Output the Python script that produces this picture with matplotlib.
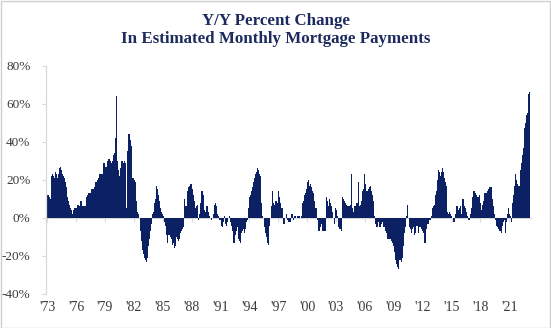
import matplotlib
matplotlib.use("Agg")
import matplotlib.pyplot as plt
import numpy as np
from matplotlib.ticker import PercentFormatter
from matplotlib.patches import Rectangle

plt.rcParams['axes.unicode_minus'] = False

# Monthly Y/Y % change, Jan 1973 onward
y1973 = [12, 12, 11, 10, 11, 22, 23, 22, 21, 22, 24, 23]
y1974 = [21, 23, 22, 26, 27, 25, 23, 23, 22, 21, 19, 16]
y1975 = [14, 11, 9, 7, 5, 4, 4, 2, 4, 5, 5, 5]
y1976 = [5, 7, 7, 6, 6, 9, 9, 6, 6, 6, 6, 6]
y1977 = [11, 11, 12, 13, 13, 13, 13, 15, 15, 15, 16, 18]
y1978 = [19, 19, 20, 21, 22, 23, 23, 23, 23, 23, 29, 29]
y1979 = [27, 27, 28, 30, 31, 31, 30, 29, 29, 30, 33, 34]
y1980 = [36, 42, 64, 30, 25, 23, 22, 26, 30, 30, 28, 29]
y1981 = [30, 29, 5, 35, 38, 44, 44, 41, 38, 30, 21, 21]
y1982 = [20, 19, 12, 9, 3, 2, 0, -4, -7, -12, -17, -19]
y1983 = [-19, -21, -22, -23, -21, -19, -15, -11, -7, -3, 0, 2]
y1984 = [3, 8, 10, 14, 17, 15, 12, 9, 7, 5, 3, 2]
y1985 = [1, -1, -2, -4, -9, -13, -11, -9, -9, -10, -11, -12]
y1986 = [-14, -13, -16, -15, -10, -10, -11, -12, -11, -10, -8, -7]
y1987 = [-6, -5, 13, 10, 6, 6, 14, 15, 16, 17, 18, 18]
y1988 = [16, 15, 12, 9, 5, 4, 6, 7, -1, 2, 3, 8]
y1989 = [14, 14, 12, 10, 4, 3, 6, 6, 3, 2, 1, 0]
y1990 = [-1, 0, -1, 2, 7, 8, 6, 5, 2, 1, -1, -1]
y1991 = [-1, -4, -5, -2, 1, 2, -3, -4, -2, 0, 1, 1]
y1992 = [-2, -4, -7, -8, -13, -13, -9, -7, -4, -5, -11, -12]
y1993 = [-13, -12, -8, -7, -6, -8, -8, -6, -2, -1, 5, 9]
y1994 = [11, 12, 14, 16, 17, 19, 21, 23, 24, 26, 26, 25]
y1995 = [23, 22, 15, 8, 1, 0, -5, -6, -8, -10, -13, -14]
y1996 = [-12, -4, 0, 6, 14, 12, 8, 7, 9, 9, 8, 8]
y1997 = [14, 11, 8, 6, 5, 5, -3, -3, -1, 0, 2, -1]
y1998 = [-2, -2, 0, -2, 2, 2, -1, -1, 1, 1, 0, 1]
y1999 = [1, 1, 1, 0, 1, 1, 8, 9, 12, 13, 15, 15]
y2000 = [19, 20, 17, 18, 18, 16, 14, 13, 9, 9, 5, 5]
y2001 = [-1, -3, -7, -7, -5, -3, -4, -7, -7, -7, -7, -3]
y2002 = [11, 9, 6, 10, 11, 8, 6, 3, 0, -3, -3, 5]
y2003 = [4, 1, -4, -5, -6, -6, -7, -7, 11, 10, 9, 8]
y2004 = [7, 7, 6, 6, 6, 7, 7, 23, 5, 3, 2, 6]
y2005 = [6, 8, 8, 11, 19, 6, 7, 9, 9, 14, 15, 23]
y2006 = [18, 16, 14, 14, 15, 16, 17, 16, 14, 12, 9, 1]
y2007 = [-3, -3, -5, -5, -2, -3, -5, -5, -3, -2, -1, -5]
y2008 = [-5, -7, -8, -10, -11, -11, -11, -11, -12, -12, -13, -15]
y2009 = [-18, -20, -22, -24, -26, -27, -24, -22, -22, -23, -21, -19]
y2010 = [-15, -8, -5, 1, 7, 7, 0, -5, -6, -8, -8, -6]
y2011 = [-5, -9, -9, -8, -4, -4, -8, -8, -5, -5, -6, -7]
y2012 = [-7, -8, -13, -13, -6, -6, -3, -3, -1, -1, 1, 1]
y2013 = [5, 6, 7, 8, 12, 14, 20, 25, 25, 24, 22, 24]
y2014 = [26, 25, 24, 21, 19, 17, 15, 3, 2, 3, 2, 1]
y2015 = [2, 0, -2, -2, 2, 3, 6, 6, 4, 5, 6, 6]
y2016 = [2, 10, 10, 6, 6, 5, 3, 1, -1, -1, -1, 2]
y2017 = [5, 8, 11, 14, 14, 13, 12, 12, 11, 11, 12, 11]
y2018 = [8, 4, 7, 9, 11, 13, 13, 13, 14, 14, 15, 16]
y2019 = [16, 16, 13, 10, 6, 2, -1, -3, -4, -5, -6, -7]
y2020 = [-6, -7, -8, -4, -2, 0, -1, -8, -2, 2, 4, 5]
y2021 = [2, 1, -2, 2, 8, 12, 17, 23, 22, 20, 18, 17]
y2022 = [17, 22, 25, 29, 33, 37, 41, 47, 50, 54, 55, 49]
y2023 = [65, 66]

values = (y1973 + y1974 + y1975 + y1976 + y1977 + y1978 + y1979 + y1980 + y1981
          + y1982 + y1983 + y1984 + y1985 + y1986 + y1987 + y1988 + y1989 + y1990
          + y1991 + y1992 + y1993 + y1994 + y1995 + y1996 + y1997 + y1998 + y1999
          + y2000 + y2001 + y2002 + y2003 + y2004 + y2005 + y2006 + y2007 + y2008
          + y2009 + y2010 + y2011 + y2012 + y2013 + y2014 + y2015 + y2016 + y2017
          + y2018 + y2019 + y2020 + y2021 + y2022 + y2023)

tick_years = list(range(1973, 2022, 3))
tick_labels = ["'73", "'76", "'79", "'82", "'85", "'88", "'91", "'94", "'97",
               "'00", "'03", "'06", "'09", "'12", "'15", "'18", "'21"]

BAR = '#0b2163'
TITLE = '#1c2a5e'
GRID = '#d9d9d9'
TXT = '#3a3a3a'
SERIF = ['Liberation Serif', 'DejaVu Serif']

W, H = 551, 328
fig = plt.figure(figsize=(W / 100, H / 100), dpi=100)
fig.patches.append(Rectangle((0.5 / W, 0.5 / H), 1 - 1.5 / W, 1 - 1.5 / H,
                             transform=fig.transFigure, fill=False,
                             edgecolor='#cfcfcf', lw=1.0))

left, right, top, bottom = 45.7, 530.5, 65.7, 294.0
ax = fig.add_axes([left / W, (H - bottom) / H, (right - left) / W, (bottom - top) / H])

x = np.arange(len(values))
ax.bar(x, values, width=1.0, color=BAR, linewidth=0, zorder=2)

ax.set_xlim(-2.5, len(values))
ax.set_ylim(-40, 80)
ax.set_yticks(np.arange(-40, 81, 20))
ax.yaxis.set_major_formatter(PercentFormatter(decimals=0))

tick_pos = [(yr - 1973) * 12 - 0.5 for yr in tick_years]
ax.set_xticks(tick_pos)
ax.set_xticklabels(tick_labels)
ax.tick_params(axis='x', length=0, pad=5, labelsize=10, labelcolor=TXT)
ax.tick_params(axis='y', length=3, width=0.8, color=GRID, pad=8, labelsize=9.5, labelcolor=TXT)
for lab in ax.get_xticklabels() + ax.get_yticklabels():
    lab.set_family(SERIF)

for s in ['top', 'right', 'bottom']:
    ax.spines[s].set_visible(False)
ax.spines['left'].set_color(GRID)
ax.spines['left'].set_linewidth(0.9)

# category axis crossing at 0%
sec = ax.secondary_xaxis(1 / 3)
sec.set_xticks(tick_pos)
sec.set_xticklabels([''] * len(tick_pos))
sec.tick_params(axis='x', length=3, width=0.8, color=GRID, direction='out')
for s in sec.spines.values():
    s.set_color(GRID)
    s.set_linewidth(0.9)

fig.text(0.5, 1 - 13 / H, "Y/Y Percent Change\nIn Estimated Monthly Mortgage Payments",
         ha='center', va='top', fontsize=12.2, fontweight='bold', family=SERIF,
         color=TITLE, linespacing=1.2)

fig.savefig('out.png', dpi=100)
